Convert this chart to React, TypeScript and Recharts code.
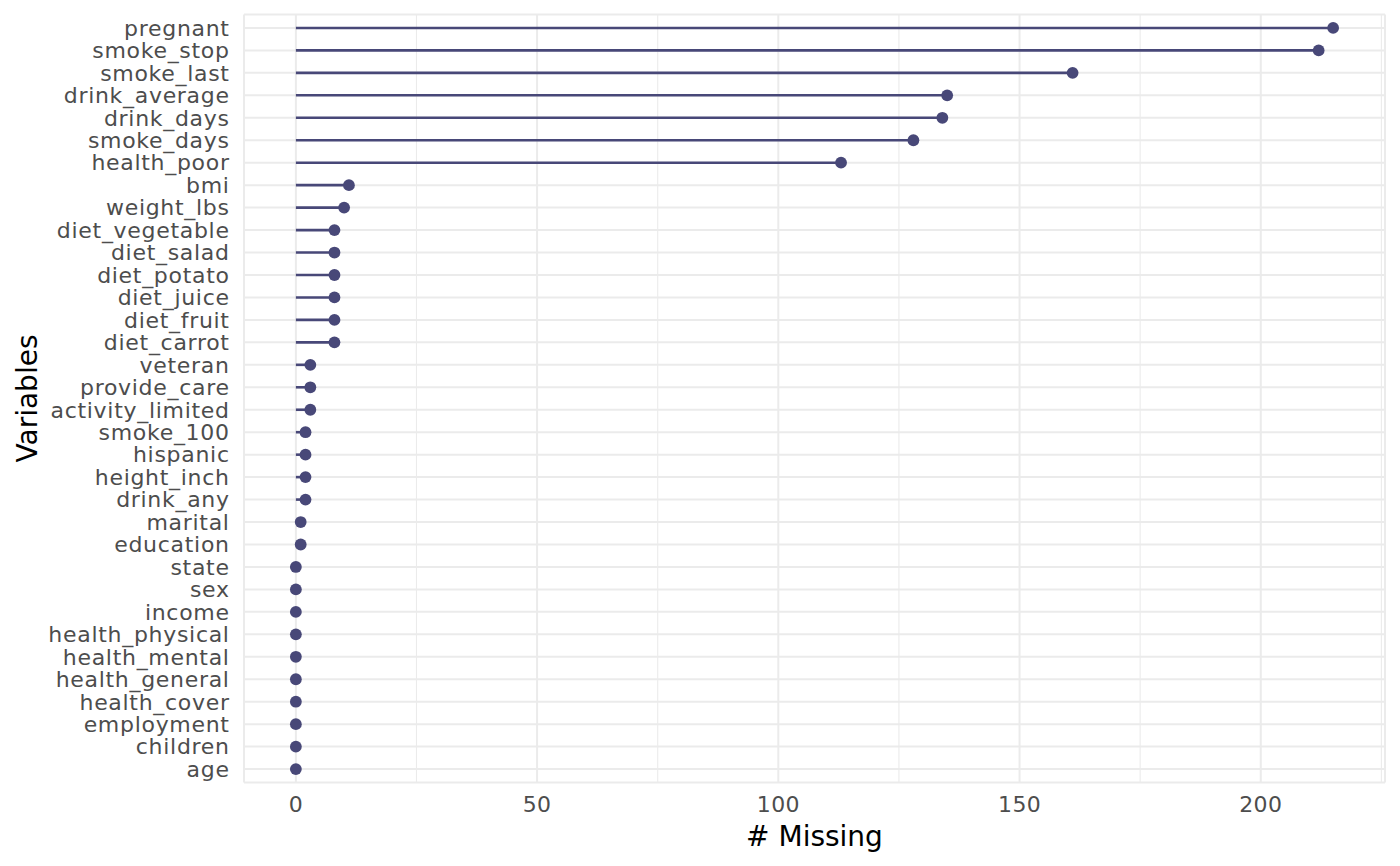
import { Bar, CartesianGrid, ComposedChart, XAxis, YAxis } from "recharts";

const variables = [
  "pregnant", "smoke_stop", "smoke_last", "drink_average", "drink_days", "smoke_days",
  "health_poor", "bmi", "weight_lbs", "diet_vegetable", "diet_salad", "diet_potato",
  "diet_juice", "diet_fruit", "diet_carrot", "veteran", "provide_care", "activity_limited",
  "smoke_100", "hispanic", "height_inch", "drink_any", "marital", "education", "state",
  "sex", "income", "health_physical", "health_mental", "health_general", "health_cover",
  "employment", "children", "age",
];

const nMissing = [
  215, 212, 161, 135, 134, 128, 113, 11, 10, 8, 8, 8, 8, 8, 8, 3, 3, 3, 2, 2, 2, 2, 1, 1,
  0, 0, 0, 0, 0, 0, 0, 0, 0, 0,
];

const majorTicks = [0, 50, 100, 150, 200];
const minorTicks = [25, 75, 125, 175, 225];

const data = variables.map((variable, i) => ({ variable, n: nMissing[i] }));

const COLOUR = "#484878";
const FONT = "DejaVu Sans";

// segment from 0 to the value, dot at the end
function Lollipop(props: any) {
  const { x, y, width, height } = props;
  const cy = y + height / 2;
  return (
    <g>
      <line x1={x} x2={x + width} y1={cy} y2={cy} stroke={COLOUR} strokeWidth={2.6} />
      <circle cx={x + width} cy={cy} r={5.9} fill={COLOUR} />
    </g>
  );
}

function VariableTick(props: any) {
  const { x, y, payload } = props;
  return (
    <text
      x={x}
      y={y}
      dx={0.7}
      dy="0.355em"
      textAnchor="end"
      fontFamily={FONT}
      fontSize={22}
      letterSpacing={0.7}
      fill="#4D4D4D"
    >
      {payload.value}
    </text>
  );
}

function VariablesTitle(props: any) {
  const { viewBox } = props;
  const cx = viewBox.x + 36.5;
  const cy = viewBox.y + viewBox.height / 2;
  return (
    <text
      x={cx}
      y={cy}
      transform={`rotate(-90, ${cx}, ${cy})`}
      textAnchor="middle"
      fontFamily={FONT}
      fontSize={28}
      fill="#000000"
    >
      Variables
    </text>
  );
}

export default function App() {
  return (
    <div style={{ position: "absolute", left: 0, top: 0, width: 1400, height: 866, background: "#fff" }}>
      <ComposedChart
        width={1400}
        height={866}
        data={data}
        layout="vertical"
        margin={{ top: 14.5, right: 15, bottom: 0, left: 0 }}
      >
        <CartesianGrid stroke="#EBEBEB" strokeWidth={2} />
        <CartesianGrid stroke="#EBEBEB" strokeWidth={1.1} horizontal={false} verticalValues={minorTicks} />
        <XAxis
          type="number"
          domain={[-10.75, 225.75]}
          ticks={majorTicks}
          allowDataOverflow
          height={83.5}
          axisLine={false}
          tickLine={false}
          tickMargin={8}
          tick={{ fontFamily: FONT, fontSize: 22, fill: "#4D4D4D", letterSpacing: 0.3 }}
          label={{
            value: "# Missing",
            position: "insideBottom",
            offset: 20,
            fontFamily: FONT,
            fontSize: 28,
            fill: "#000000",
          }}
        />
        <YAxis
          type="category"
          dataKey="variable"
          width={244}
          interval={0}
          axisLine={false}
          tickLine={false}
          tickMargin={9}
          padding={{ top: 2.2, bottom: 2.2 }}
          tick={<VariableTick />}
          label={<VariablesTitle />}
        />
        <Bar dataKey="n" shape={<Lollipop />} isAnimationActive={false} />
      </ComposedChart>
    </div>
  );
}
